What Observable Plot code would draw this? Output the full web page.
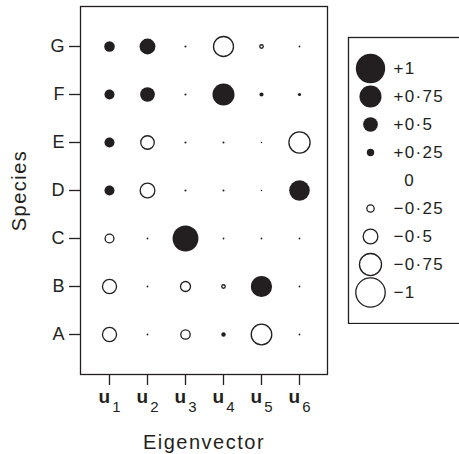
<!DOCTYPE html>
<html><head><meta charset="utf-8">
<script src="https://cdn.jsdelivr.net/npm/d3@7"></script>
<script src="https://cdn.jsdelivr.net/npm/@observablehq/plot@0.6"></script>
<style>
html,body{margin:0;padding:0;overflow:hidden;background:#fff;}
#wrap{position:relative;width:459px;height:454px;overflow:hidden;}
#main{position:absolute;left:0;top:0;width:340px;}
#legend{position:absolute;left:347px;top:36px;width:125px;}
#wrap svg{max-width:none !important;}
</style></head><body><div id="wrap"><div id="main"></div><div id="legend"></div></div>
<script>
// Species (rows, bottom to top) and eigenvectors (columns)
const species = ["A","B","C","D","E","F","G"];
const vectors = ["u1","u2","u3","u4","u5","u6"];

// Loadings per species, in order u1..u6
const loadA = [-0.48, 0.06, -0.32, 0.15, -0.70, 0.06];
const loadB = [-0.48, 0.06, -0.34, -0.12, 0.72, 0.06];
const loadC = [-0.30, 0.06, 0.88, 0.06, 0.06, 0.06];
const loadD = [0.34, -0.50, 0.07, 0.07, 0.05, 0.70];
const loadE = [0.34, -0.46, 0.07, 0.07, 0.05, -0.72];
const loadF = [0.34, 0.50, 0.07, 0.75, 0.14, 0.11];
const loadG = [0.36, 0.54, 0.07, -0.68, -0.12, 0.06];

// Legend
const legendValues = [1, 0.75, 0.5, 0.25, 0, -0.25, -0.5, -0.75, -1];
const legendLabels = ["+1", "+0·75", "+0·5", "+0·25", "\u20070", "−0·25", "−0·5", "−0·75", "−1"];

const xLabel = "Eigenvector";
const yLabel = "Species";

const rows = {A: loadA, B: loadB, C: loadC, D: loadD, E: loadE, F: loadF, G: loadG};
const data = species.flatMap(s => vectors.map((v, i) => ({species: s, vector: v, value: rows[s][i]})));

const ink = "#231f20";
const font = "'Liberation Sans', Arial, Helvetica, sans-serif";
const rScale = {type: "linear", domain: [0, 1], range: [0, 14.7]};

const main = Plot.plot({
  width: 340, height: 454,
  marginLeft: 80, marginRight: 13, marginTop: 6, marginBottom: 80,
  style: {fontFamily: font, color: ink, background: "white", overflow: "visible"},
  x: {type: "point", domain: vectors, padding: 0.733},
  y: {type: "point", domain: species, padding: 0.77, reverse: true},
  r: rScale,
  marks: [
    Plot.frame({stroke: ink, strokeWidth: 1.3}),
    Plot.axisX({tickSize: 11, tickPadding: 5, fontSize: 18, strokeWidth: 1.3, label: xLabel, labelAnchor: "center", labelOffset: 74, labelArrow: "none"}),
    Plot.axisY({tickSize: 11, tickPadding: 5, fontSize: 18, strokeWidth: 1.3, label: yLabel, labelAnchor: "center", labelOffset: 69, labelArrow: "none"}),
    Plot.dot(data.filter(d => d.value >= 0), {x: "vector", y: "species", r: d => d.value, fill: ink, stroke: "none"}),
    Plot.dot(data.filter(d => d.value < 0), {x: "vector", y: "species", r: d => -d.value, fill: "white", stroke: ink, strokeWidth: 1.3})
  ]
});
document.getElementById("main").append(main);

// Rich x tick labels: bold u with subscript index
d3.select(main).selectAll('g[aria-label="x-axis tick label"] text').each(function() {
  const t = d3.select(this);
  const s = t.text();
  t.text(null);
  t.append("tspan").attr("font-weight", "bold").attr("font-size", 19).text(s.slice(0, 1));
  t.append("tspan").attr("font-size", 15).attr("dx", 2).attr("dy", 8.5).text(s.slice(1));
});
d3.select(main).selectAll('g[aria-label="x-axis label"] text, g[aria-label="y-axis label"] text')
  .attr("font-size", 20).attr("letter-spacing", "1.5px");

const legendData = legendValues.map((v, i) => ({v, label: legendLabels[i]}));
const legend = Plot.plot({
  width: 125, height: 288,
  marginTop: 1, marginLeft: 1, marginBottom: 1, marginRight: 0,
  style: {fontFamily: font, color: ink, background: "white"},
  y: {type: "point", domain: legendLabels, padding: 0.974, axis: null},
  r: rScale,
  marks: [
    Plot.frame({stroke: ink, strokeWidth: 1.3}),
    Plot.dot(legendData.filter(d => d.v > 0), {frameAnchor: "left", dx: 22, y: "label", r: "v", fill: ink, stroke: "none"}),
    Plot.dot(legendData.filter(d => d.v < 0), {frameAnchor: "left", dx: 22, y: "label", r: d => -d.v, fill: "white", stroke: ink, strokeWidth: 1.3}),
    Plot.text(legendData, {frameAnchor: "left", dx: 45, y: "label", text: "label", textAnchor: "start", fontSize: 17, fill: ink})
  ]
});
d3.select(legend).selectAll('g[aria-label="text"] text').attr("letter-spacing", "1.3px");
document.getElementById("legend").append(legend);
</script>
</body></html>
